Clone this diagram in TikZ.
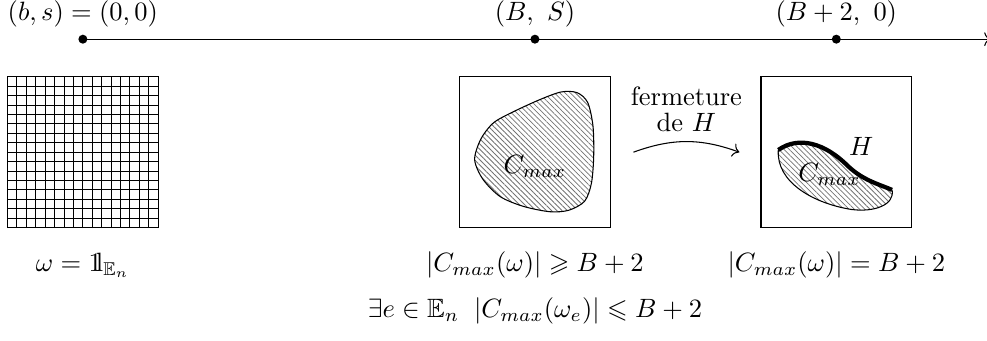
\documentclass[tikz,border=0pt]{standalone}
\usepackage{amsmath,amssymb}
\usetikzlibrary{arrows.meta,positioning,patterns.meta}
\newcommand{\indic}{\mathrm{1}\mkern-4mu\mathrm{l}}

\begin{document}
\begin{tikzpicture}[
    dot/.style={circle, fill=black, inner sep=0pt, minimum size=3.4pt},
    frame/.style={rectangle, draw, minimum size=2cm, inner sep=0pt},
    lbl/.style={font=\normalsize, align=center},
    hatch/.style={pattern={Lines[angle=-45, distance=1.4pt, line width=0.3pt]},
                  pattern color=black!55},
    label distance=-1pt
  ]
  \useasboundingbox (-1.1,0) rectangle (12.0,4.52);

  % Axis with the three states
  \coordinate (axend) at (12.05,4);
  \node[dot, label=above:{$(b,s)=(0,0)$}] (p0) at (0,4) {};
  \node[dot, label=above:{$(B,\ S)$}] (pB) at (6,4) {};
  \node[dot, label=above:{$(B+2,\ 0)$}] (pB2) at (10,4) {};
  \draw[->] (p0.center) -- (axend);

  % Full configuration
  \node[frame] (lat) at (0,2.5) {};
  \draw[step=0.125] (lat.south west) grid (lat.north east);
  \node[lbl] (wlbl) at (0,1) {$\omega=\indic_{\mathbb{E}_n}$};

  % Before closing H
  \node[frame] (b1) at (6,2.5) {};
  \draw[hatch] plot[smooth cycle] coordinates {(6.35,3.3) (6.56,3.29) (6.7,3.16)
    (6.77,2.85) (6.78,2.45) (6.75,2.09) (6.66,1.85) (6.45,1.73) (6.2,1.71)
    (5.85,1.78) (5.54,1.91) (5.31,2.14) (5.2,2.4) (5.28,2.67) (5.45,2.89)
    (5.72,3.04) (6.07,3.2)};
  \node (c1) at (6,2.31) {$C_{max}$};
  \node[lbl] (l1) at (6,1) {$|C_{max}(\omega)|\geqslant B+2$};

  % After closing H
  \node[frame] (b2) at (10,2.5) {};
  \fill[hatch] (9.23,2.53) .. controls (9.5,2.72) and (9.85,2.62) .. (10.15,2.32)
    .. controls (10.35,2.13) and (10.55,2.08) .. (10.74,2.0)
    .. controls (10.78,1.8) and (10.5,1.7) .. (10.2,1.74)
    .. controls (9.7,1.82) and (9.2,2.1) .. (9.23,2.53);
  \draw (10.74,2.0) .. controls (10.78,1.8) and (10.5,1.7) .. (10.2,1.74)
    .. controls (9.7,1.82) and (9.2,2.1) .. (9.23,2.53);
  \draw[line width=1.6pt] (9.23,2.53) .. controls (9.5,2.72) and (9.85,2.62) .. (10.15,2.32)
    .. controls (10.35,2.13) and (10.55,2.08) .. (10.74,2.0);
  \node (c2) at (9.91,2.2) {$C_{max}$};
  \node (h) at (10.33,2.58) {$H$};
  \node[lbl] (l2) at (10,1) {$|C_{max}(\omega)|=B+2$};

  % Closing H
  \draw[->] ([xshift=0.3cm]b1.east) to[bend left=20]
    node[above, lbl] {fermeture\\[-2pt]de $H$} ([xshift=-0.28cm]b2.west);

  \node[lbl] (ex) at (6,0.4) {$\exists e\in\mathbb{E}_n\;\;|C_{max}(\omega_e)|\leqslant B+2$};
\end{tikzpicture}
\end{document}
